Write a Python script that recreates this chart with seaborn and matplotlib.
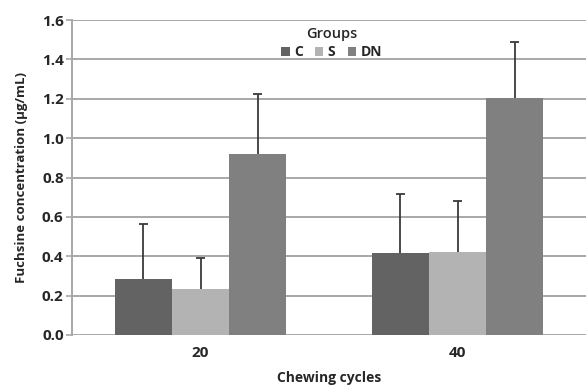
import matplotlib
matplotlib.use("Agg")
import matplotlib.pyplot as plt
import seaborn as sns
import pandas as pd
import numpy as np

cycles = ["20", "40"]
groups = ["C", "S", "DN"]
means = {"C": [0.283, 0.415], "S": [0.235, 0.42], "DN": [0.918, 1.205]}
errs = {"C": [0.282, 0.30], "S": [0.158, 0.26], "DN": [0.306, 0.285]}
colors = ["#636363", "#b3b3b3", "#808080"]
yticks = [0.0, 0.2, 0.4, 0.6, 0.8, 1.0, 1.2, 1.4, 1.6]

sns.set_theme(style="white")
plt.rcParams['font.family'] = ['Open Sans', 'DejaVu Sans']

rows = []
for g in groups:
    for i, c in enumerate(cycles):
        rows.append({"cycle": c, "group": g, "value": means[g][i], "err": errs[g][i]})
df = pd.DataFrame(rows)

fig = plt.figure(figsize=(5.87, 3.88), dpi=100)
ax = fig.add_axes([72/587, 53/388, 514/587, 315/388])

sns.barplot(data=df, x="cycle", y="value", hue="group", order=cycles, hue_order=groups,
            palette=colors, errorbar=None, width=0.667, saturation=1, ax=ax,
            linewidth=0, zorder=3)

cap_half = 0.018
for patch_group, g in zip(ax.containers, groups):
    xs = np.array([p.get_x() + p.get_width() / 2 for p in patch_group])
    ys = np.array([p.get_height() for p in patch_group])
    tops = ys + np.array(errs[g])
    ax.vlines(xs, ys, tops, color="#3a3a3a", linewidth=1.3, zorder=4)
    ax.hlines(tops, xs - cap_half, xs + cap_half, color="#3a3a3a", linewidth=1.3, zorder=4)

ax.set_ylim(0, 1.6)
ax.set_xlim(-0.5, 1.5)
ax.set_yticks(yticks)
ax.set_yticklabels([f"{t:.1f}" for t in yticks], fontweight="bold", fontsize=11)
ax.set_xticks(range(len(cycles)))
ax.set_xticklabels(cycles, fontweight="bold", fontsize=11)
ax.yaxis.grid(True, color="#a8a8a8", linewidth=1.4, zorder=0)
ax.set_axisbelow(True)
for s in ["top", "right", "bottom"]:
    ax.spines[s].set_visible(False)
ax.spines["left"].set_color("#a8a8a8")
ax.spines["left"].set_linewidth(1.4)
ax.tick_params(axis="y", length=4, width=1.2, color="#a8a8a8", pad=2, left=True)
ax.tick_params(axis="x", length=0, pad=8)

ax.set_ylabel("Fuchsine concentration (\u03bcg/mL)", fontweight="bold", fontsize=9.5, labelpad=10)
ax.set_xlabel("Chewing cycles", fontweight="bold", fontsize=10)
ax.xaxis.set_label_coords(0.5, -0.115)

leg = ax.legend(title="Groups", ncol=3, loc="upper center", bbox_to_anchor=(0.505, 1.0),
                frameon=False, fontsize=10, title_fontsize=10.5, handlelength=0.6,
                handleheight=0.6, handletextpad=0.3, columnspacing=0.9,
                borderaxespad=0.1, labelspacing=0.1)
for t in leg.get_texts():
    t.set_fontweight("bold")
leg.get_title().set_fontweight("semibold")
leg._legend_box.sep = 3

fig.savefig("out.png", dpi=100)
